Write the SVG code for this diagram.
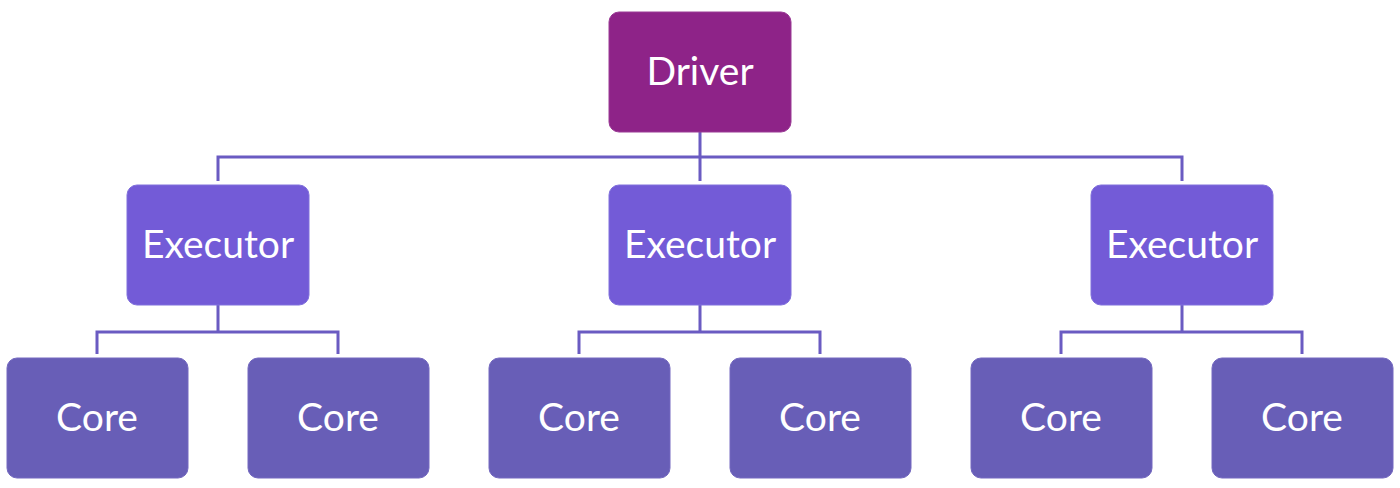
<svg xmlns="http://www.w3.org/2000/svg" width="1400" height="488" viewBox="0 0 1400 488">
<style>
.box{stroke-width:1}
.driver{fill:#8E2388;stroke:#9A3A95}
.exec{fill:#735BD7;stroke:#8070DC}
.core{fill:#685EB7;stroke:#7469C0}
.lbl{font-family:"Lato","Open Sans",sans-serif;font-size:39px;fill:#ffffff;text-anchor:middle;dominant-baseline:central}
.conn{fill:none;stroke:#6A5BC2;stroke-width:3}
</style>
<rect width="1400" height="488" fill="#ffffff"/>
<g id="connectors">
<path class="conn" d="M700 132V181M218 181V157H1182V181"/>
<path class="conn" d="M218 305V332M97 354V332H338V354"/>
<path class="conn" d="M700 305V332M579 354V332H820V354"/>
<path class="conn" d="M1182 305V332M1061 354V332H1302V354"/>
</g>
<g id="driver"><rect class="box driver" x="609" y="12" width="182" height="120" rx="10"/><text class="lbl" x="700" y="70">Driver</text></g>
<g id="executor1"><rect class="box exec" x="127" y="185" width="182" height="120" rx="10"/><text class="lbl" x="218" y="243">Executor</text></g>
<g id="executor2"><rect class="box exec" x="609" y="185" width="182" height="120" rx="10"/><text class="lbl" x="700" y="243">Executor</text></g>
<g id="executor3"><rect class="box exec" x="1091" y="185" width="182" height="120" rx="10"/><text class="lbl" x="1182" y="243">Executor</text></g>
<g id="core1"><rect class="box core" x="7" y="358" width="181" height="120" rx="10"/><text class="lbl" x="97" y="416">Core</text></g>
<g id="core2"><rect class="box core" x="248" y="358" width="181" height="120" rx="10"/><text class="lbl" x="338" y="416">Core</text></g>
<g id="core3"><rect class="box core" x="489" y="358" width="181" height="120" rx="10"/><text class="lbl" x="579" y="416">Core</text></g>
<g id="core4"><rect class="box core" x="730" y="358" width="181" height="120" rx="10"/><text class="lbl" x="820" y="416">Core</text></g>
<g id="core5"><rect class="box core" x="971" y="358" width="181" height="120" rx="10"/><text class="lbl" x="1061" y="416">Core</text></g>
<g id="core6"><rect class="box core" x="1212" y="358" width="181" height="120" rx="10"/><text class="lbl" x="1302" y="416">Core</text></g>
</svg>
